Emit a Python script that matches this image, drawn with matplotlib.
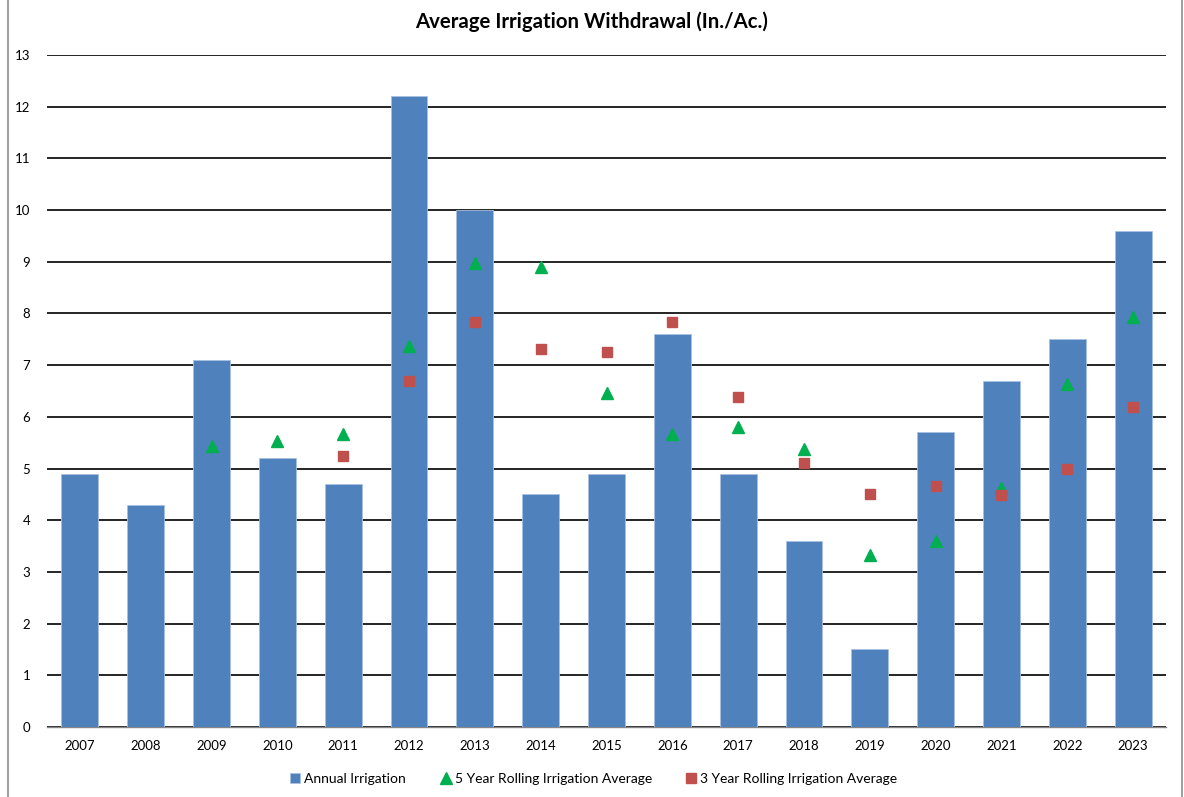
import matplotlib
matplotlib.use("Agg")
import matplotlib.pyplot as plt
from matplotlib.lines import Line2D

plt.rcParams['font.family'] = ['Lato', 'DejaVu Sans']

years = [str(y) for y in range(2007, 2024)]
annual = [4.9, 4.3, 7.1, 5.2, 4.7, 12.2, 10.0, 4.5, 4.9, 7.6, 4.9, 3.6, 1.5, 5.7, 6.7, 7.5, 9.6]
# triangle series starts in 2009, square series in 2011
tri_years = years[2:]
tri_vals = [5.43, 5.53, 5.67, 7.37, 8.97, 8.90, 6.47, 5.67, 5.80, 5.37, 3.33, 3.60, 4.63, 6.63, 7.93]
sq_years = years[4:]
sq_vals = [5.24, 6.70, 7.84, 7.32, 7.26, 7.84, 6.38, 5.10, 4.50, 4.66, 4.48, 5.00, 6.20]

fig = plt.figure(figsize=(11.84, 7.97), dpi=100)
ax = fig.add_axes([47/1184, 1 - 727/797, (1166 - 47)/1184, (727 - 55)/797])

x = list(range(len(years)))
bars = ax.bar(x, annual, width=0.56, color='#4F81BD', edgecolor='#A9C1E0', linewidth=0.6,
              zorder=2, label='Annual Irrigation')
tri, = ax.plot([years.index(y) for y in tri_years], tri_vals, linestyle='none', marker='^',
               markersize=8.5, color='#00B050', zorder=3, label='5 Year Rolling Irrigation Average')
sq, = ax.plot([years.index(y) for y in sq_years], sq_vals, linestyle='none', marker='s',
              markersize=7.5, color='#C0504D', zorder=3, label='3 Year Rolling Irrigation Average')

ax.set_xlim(-0.5, len(years) - 0.5)
ax.set_ylim(0, 13)
ax.set_yticks(range(0, 14))
ax.set_xticks(x)
ax.set_xticklabels(years)
ax.yaxis.grid(True, color='black', linewidth=1.2, zorder=0)
ax.set_axisbelow(True)
for side in ['top', 'right', 'left']:
    ax.spines[side].set_visible(False)
ax.spines['bottom'].set_color('#868686')
ax.spines['bottom'].set_linewidth(1.0)
ax.spines['bottom'].set_zorder(1)
ax.tick_params(axis='both', length=0, labelsize=9.5, colors='black')
ax.tick_params(axis='y', pad=12)
ax.tick_params(axis='x', pad=9)

fig.text(0.5, 1 - 22/797, 'Average Irrigation Withdrawal (In./Ac.)', ha='center', va='center',
         fontsize=14.7, fontweight='bold')

fig.legend(handles=[bars, tri, sq], loc='center', bbox_to_anchor=(594/1184, 1 - 779/797),
           ncol=3, frameon=False, fontsize=10, handlelength=0.7, handletextpad=0.3,
           columnspacing=2.5, handleheight=0.7)

# chart border
fig.add_artist(Line2D([8/1184, 8/1184], [0, 1], color='#8C8C8C', linewidth=1.2))
fig.add_artist(Line2D([1182/1184, 1182/1184], [0, 1], color='#8C8C8C', linewidth=1.2))

fig.savefig('out.png', dpi=100)
